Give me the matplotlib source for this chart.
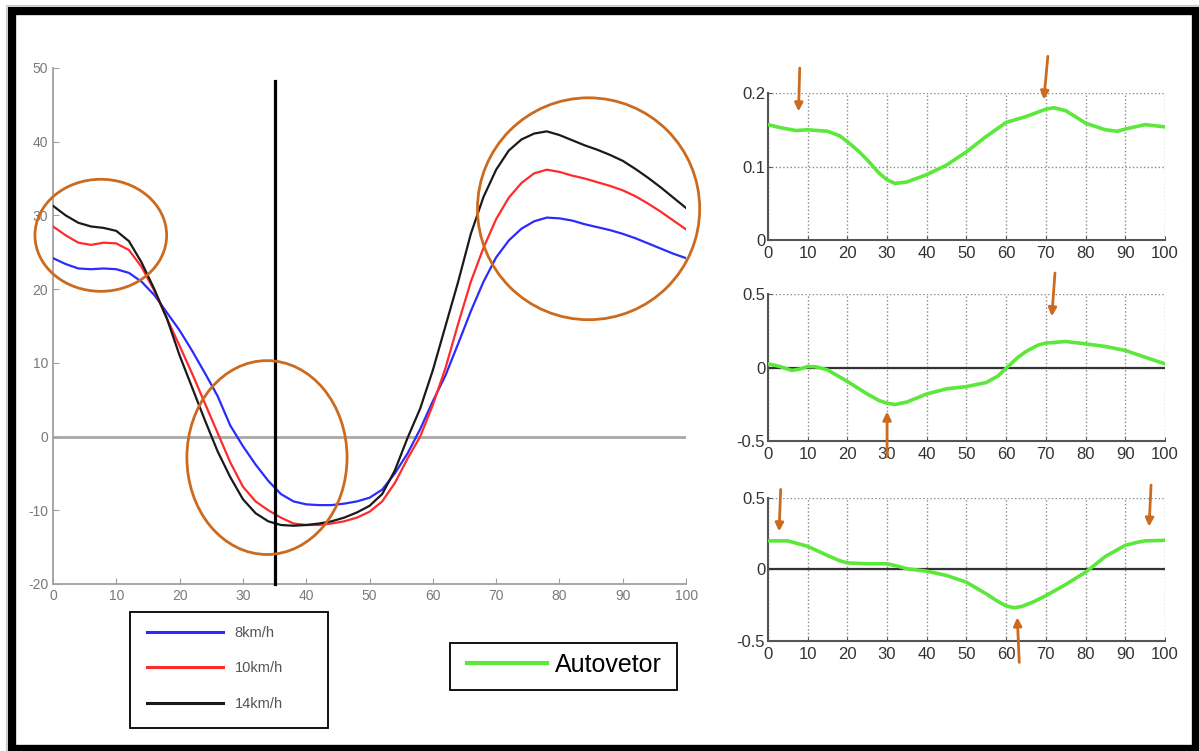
import numpy as np
import matplotlib
matplotlib.use("Agg")
import matplotlib.pyplot as plt
from matplotlib import font_manager
from matplotlib.patches import Ellipse, Rectangle
from matplotlib.lines import Line2D

# font: condensed look of the original if available
names = {f.name for f in font_manager.fontManager.ttflist}
narrow = "Liberation Sans Narrow" if "Liberation Sans Narrow" in names else "Liberation Sans"
plt.rcParams['font.family'] = [narrow, "DejaVu Sans"]
plt.rcParams['axes.unicode_minus'] = False

# Main chart data
# ---------------
x_main = list(range(0, 101, 2))
v8 = [24.2, 23.4, 22.8, 22.7, 22.8, 22.7, 22.2, 21.0, 19.2, 16.8,
      14.4, 11.6, 8.6, 5.5, 1.5, -1.3, -3.8, -6.0, -7.8, -8.8,
      -9.2, -9.3, -9.3, -9.1, -8.8, -8.3, -7.2, -5.0, -2.3, 1.0,
      4.8, 8.3, 12.6, 17.0, 21.0, 24.3, 26.6, 28.2, 29.2, 29.7,
      29.6, 29.3, 28.8, 28.4, 28.0, 27.5, 26.9, 26.2, 25.5, 24.8, 24.2]
v10 = [28.5, 27.3, 26.3, 26.0, 26.3, 26.2, 25.3, 23.0, 19.8, 16.0,
       12.3, 8.5, 4.5, 0.5, -3.5, -6.8, -8.8, -10.0, -11.0, -11.8,
       -12.0, -12.0, -11.8, -11.5, -11.0, -10.2, -8.8, -6.3, -3.0, 0.0,
       4.3, 9.3, 15.3, 21.0, 25.6, 29.5, 32.4, 34.4, 35.7, 36.2,
       35.9, 35.4, 35.0, 34.5, 34.0, 33.4, 32.6, 31.6, 30.5, 29.3, 28.1]
v14 = [31.3, 30.0, 29.0, 28.5, 28.3, 27.9, 26.5, 23.6, 20.0, 16.0,
       11.0, 6.6, 2.2, -2.0, -5.5, -8.5, -10.4, -11.5, -12.0, -12.1,
       -12.0, -11.8, -11.5, -11.0, -10.3, -9.4, -7.8, -4.6, -0.2, 3.8,
       9.0, 15.0, 21.0, 27.5, 32.5, 36.2, 38.8, 40.3, 41.1, 41.4,
       40.9, 40.2, 39.5, 38.9, 38.2, 37.4, 36.3, 35.1, 33.8, 32.4, 31.0]
speed_labels = ["8km/h", "10km/h", "14km/h"]
speed_colors = ["#2b2bff", "#ff2b2b", "#1a1a1a"]

cursor_x, cursor_top = 35, 48.2

# highlighted regions (centre x, centre y, width, height) in data units
ell_x = [7.55, 33.8, 84.6]
ell_y = [27.3, -2.85, 30.9]
ell_w = [20.8, 25.3, 35.1]
ell_h = [15.2, 26.3, 30.1]

# Eigenvector panels
# ------------------
ev1_x = [0, 3, 7, 10, 15, 18, 20, 23, 25, 28, 30, 32, 35, 40, 45, 50, 55, 60, 65, 70, 72, 75, 78, 80, 85, 88, 90, 95, 100]
ev1_y = [0.157, 0.153, 0.149, 0.15, 0.148, 0.142, 0.134, 0.12, 0.109, 0.091, 0.082, 0.077, 0.079, 0.089, 0.102, 0.12,
         0.141, 0.16, 0.168, 0.178, 0.18, 0.176, 0.166, 0.159, 0.15, 0.148, 0.151, 0.157, 0.154]
ev2_x = [0, 3, 6, 8, 10, 12, 15, 20, 25, 28, 30, 32, 35, 40, 45, 50, 55, 58, 60, 63, 65, 68, 70, 75, 80, 85, 90, 95, 100]
ev2_y = [0.025, 0.007, -0.02, -0.011, 0.007, 0.005, -0.016, -0.095, -0.18, -0.225, -0.243, -0.252, -0.235, -0.18,
         -0.145, -0.13, -0.102, -0.057, -0.005, 0.07, 0.109, 0.152, 0.166, 0.177, 0.161, 0.143, 0.116, 0.07, 0.025]
ev3_x = [0, 5, 10, 15, 18, 20, 25, 30, 33, 35, 40, 45, 50, 55, 58, 60, 62, 64, 67, 70, 75, 80, 85, 90, 93, 95, 100]
ev3_y = [0.2, 0.2, 0.162, 0.098, 0.062, 0.046, 0.04, 0.04, 0.021, 0.005, -0.012, -0.042, -0.089, -0.171,
         -0.225, -0.255, -0.268, -0.258, -0.225, -0.183, -0.105, -0.019, 0.091, 0.169, 0.19, 0.2, 0.204]

# arrows per panel: (x tail, y tail, x tip, y tip)
arrows = [
    [(8.0, 0.234, 7.7, 0.175), (70.5, 0.25, 69.5, 0.191)],
    [(72.3, 0.643, 71.5, 0.348), (30.0, -0.607, 30.0, -0.30)],
    [(3.2, 0.56, 2.8, 0.266), (96.5, 0.59, 96.0, 0.30), (63.3, -0.65, 62.8, -0.335)],
]

orange = "#cc6a1e"
green = "#5ce83a"

fig = plt.figure(figsize=(11.99, 7.51), dpi=100)

# main panel
ax = fig.add_axes([0.0442, 0.2224, 0.528, 0.6871])
for v, c in zip([v8, v10, v14], speed_colors):
    ax.plot(x_main, v, color=c, lw=1.6, zorder=3)
ax.axhline(0, color="#a8a8a8", lw=2, zorder=1)
ax.plot([cursor_x, cursor_x], [cursor_top, -20], color="black", lw=2.3, clip_on=False, zorder=4)
for cx, cy, w, h in zip(ell_x, ell_y, ell_w, ell_h):
    ax.add_patch(Ellipse((cx, cy), w, h, fill=False, ec=orange, lw=2, clip_on=False, zorder=5))
ax.set_xlim(0, 100)
ax.set_ylim(-20, 50)
ax.set_xticks(np.arange(0, 101, 10))
ax.set_yticks(np.arange(-20, 51, 10))
for s in ["top", "right"]:
    ax.spines[s].set_visible(False)
for s in ["left", "bottom"]:
    ax.spines[s].set_color("#a0a0a0")
    ax.spines[s].set_linewidth(1.3)
ax.tick_params(direction="in", color="#a0a0a0", length=4, labelcolor="#7a7a7a", labelsize=10)

# right panels
panel_pos = [[0.6405, 0.6804, 0.3311, 0.1957],
             [0.6405, 0.4128, 0.3311, 0.1957],
             [0.6405, 0.1465, 0.3311, 0.1904]]
panel_data = [(ev1_x, ev1_y), (ev2_x, ev2_y), (ev3_x, ev3_y)]
panel_ylim = [(0, 0.2), (-0.5, 0.5), (-0.5, 0.5)]
panel_yticks = [[0, 0.1, 0.2], [-0.5, 0, 0.5], [-0.5, 0, 0.5]]
panel_ylabels = [["0", "0.1", "0.2"], ["-0.5", "0", "0.5"], ["-0.5", "0", "0.5"]]

for i in range(3):
    a = fig.add_axes(panel_pos[i])
    a.plot(panel_data[i][0], panel_data[i][1], color=green, lw=2.6, zorder=3)
    if i > 0:
        a.axhline(0, color="#333333", lw=1.6, zorder=2)
    a.set_xlim(0, 100)
    a.set_ylim(*panel_ylim[i])
    a.set_xticks(np.arange(0, 101, 10))
    a.set_yticks(panel_yticks[i])
    a.set_yticklabels(panel_ylabels[i])
    a.grid(True, linestyle=":", color="#888888", lw=1)
    a.set_axisbelow(True)
    for s in ["top", "right"]:
        a.spines[s].set_visible(False)
    for s in ["left", "bottom"]:
        a.spines[s].set_color("#555555")
        a.spines[s].set_linewidth(1.5)
    a.tick_params(direction="in", color="#555555", length=3, labelcolor="#333333", labelsize=12)
    a.tick_params(axis="x", pad=4)
    a.tick_params(axis="y", pad=2)
    for x0, y0, x1, y1 in arrows[i]:
        a.annotate("", xy=(x1, y1), xytext=(x0, y0), annotation_clip=False,
                   arrowprops=dict(arrowstyle="-|>", color=orange, lw=2, mutation_scale=12,
                                   shrinkA=0, shrinkB=0))

# legends
fig.add_artist(Rectangle((0.1084, 0.0306), 0.1652, 0.1545, transform=fig.transFigure,
                         fill=False, ec="black", lw=1.3))
h1 = [Line2D([], [], color=c, lw=2.2) for c in speed_colors]
leg1 = fig.legend(h1, speed_labels, loc="upper left", bbox_to_anchor=(0.1226, 0.166),
                  frameon=False, fontsize=10.5, handlelength=5.2, handletextpad=0.8,
                  labelspacing=1.45, borderpad=0, borderaxespad=0)
for t in leg1.get_texts():
    t.set_color("#555555")

fig.add_artist(Rectangle((0.3753, 0.0812), 0.1893, 0.0626, transform=fig.transFigure,
                         fill=False, ec="black", lw=1.3))
fig.legend([Line2D([], [], color=green, lw=3)], ["Autovetor"], loc="upper left",
           bbox_to_anchor=(0.3895, 0.131), frameon=False, fontsize=18,
           handlelength=3.2, handletextpad=0.3, borderpad=0, borderaxespad=0)

# outer frame
fig.add_artist(Rectangle((0.0046, 0.0), 0.9954, 0.9927, transform=fig.transFigure,
                         fill=False, ec="#c8c8c8", lw=0.8))
fig.add_artist(Rectangle((0.0096, 0.002), 0.9875, 0.9836, transform=fig.transFigure,
                         fill=False, ec="black", lw=6))

fig.savefig("out.png", dpi=100)
